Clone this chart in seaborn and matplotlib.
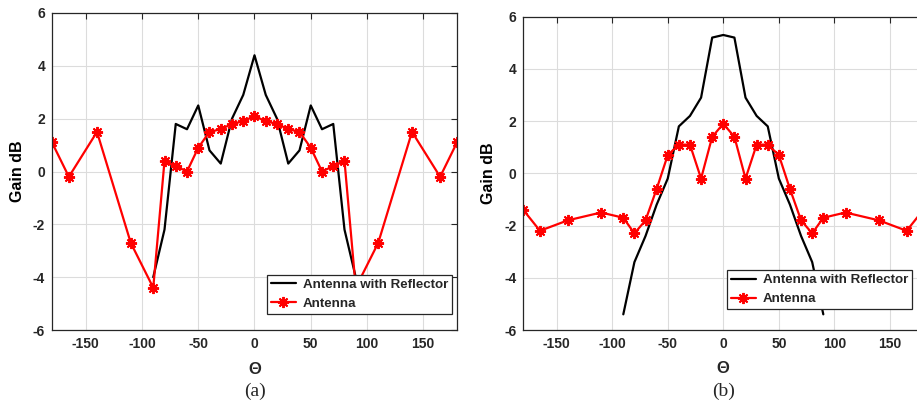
import numpy as np
import pandas as pd
import seaborn as sns
from matplotlib import pyplot as plt

# (a) antenna alone and with reflector
theta_a_ant = [-180, -165, -140, -110, -90, -80, -70, -60, -50, -40, -30, -20, -10, 0,
               10, 20, 30, 40, 50, 60, 70, 80, 90, 110, 140, 165, 180]
gain_a_ant = [1.1, -0.2, 1.5, -2.7, -4.4, 0.4, 0.2, 0.0, 0.9, 1.5, 1.6, 1.8, 1.9, 2.1,
              1.9, 1.8, 1.6, 1.5, 0.9, 0.0, 0.2, 0.4, -4.4, -2.7, 1.5, -0.2, 1.1]
theta_a_ref = [-90, -80, -70, -60, -50, -40, -30, -20, -10, 0, 10, 20, 30, 40, 50, 60, 70, 80, 90]
gain_a_ref = [-4.0, -2.2, 1.8, 1.6, 2.5, 0.8, 0.3, 2.0, 2.9, 4.4, 2.9, 2.0, 0.3, 0.8, 2.5, 1.6, 1.8, -2.2, -4.0]

# (b)
theta_b_ant = [-180, -165, -140, -110, -90, -80, -70, -60, -50, -40, -30, -20, -10, 0,
               10, 20, 30, 40, 50, 60, 70, 80, 90, 110, 140, 165, 180]
gain_b_ant = [-1.4, -2.2, -1.8, -1.5, -1.7, -2.3, -1.8, -0.6, 0.7, 1.1, 1.1, -0.2, 1.4, 1.9,
              1.4, -0.2, 1.1, 1.1, 0.7, -0.6, -1.8, -2.3, -1.7, -1.5, -1.8, -2.2, -1.4]
theta_b_ref = [-90, -80, -70, -60, -50, -40, -30, -20, -10, 0, 10, 20, 30, 40, 50, 60, 70, 80, 90]
gain_b_ref = [-5.4, -3.4, -2.4, -1.2, -0.2, 1.8, 2.2, 2.9, 5.2, 5.3, 5.2, 2.9, 2.2, 1.8, -0.2, -1.2, -2.4, -3.4, -5.4]

x_ticks = [-150, -100, -50, 0, 50, 100, 150]
y_ticks = [-6, -4, -2, 0, 2, 4, 6]

sns.set_style("whitegrid")
plt.rcParams['font.family'] = ['Liberation Sans', 'DejaVu Sans']
plt.rcParams['axes.unicode_minus'] = False
dark = "#262626"


def draw_panel(ax, th_ref, g_ref, th_ant, g_ant, leg_anchor):
    ref = pd.DataFrame({"theta": th_ref, "gain": g_ref})
    ant = pd.DataFrame({"theta": th_ant, "gain": g_ant})
    sns.lineplot(data=ref, x="theta", y="gain", ax=ax, color="black", lw=1.6,
                 label="Antenna with Reflector", sort=False)
    sns.lineplot(data=ant, x="theta", y="gain", ax=ax, color="red", lw=1.6,
                 marker=(8, 2, 0), markersize=8, markeredgewidth=1.4, markeredgecolor="red",
                 label="Antenna", sort=False)
    ax.set_xlim(-180, 180)
    ax.set_ylim(-6, 6)
    ax.set_xticks(x_ticks)
    ax.set_yticks(y_ticks)
    ax.grid(True, color="#dcdcdc", lw=0.8)
    for s in ax.spines.values():
        s.set_color(dark)
        s.set_linewidth(0.9)
        s.set_visible(True)
    ax.tick_params(direction="in", top=True, right=True, length=4, width=0.8,
                   color=dark, labelcolor=dark, labelsize=10, pad=5)
    for lab in ax.get_xticklabels() + ax.get_yticklabels():
        lab.set_fontweight("bold")
    ax.set_xlabel("Θ", fontsize=12, fontweight="bold", color=dark)
    ax.xaxis.set_label_coords(0.5, -0.1)
    ax.set_ylabel("Gain dB", fontsize=11.5, fontweight="bold", color="black")
    ax.yaxis.set_label_coords(-0.067, 0.5)
    leg = ax.legend(loc="lower right", bbox_to_anchor=leg_anchor, borderaxespad=0,
                    fancybox=False, framealpha=1, edgecolor=dark,
                    prop={"weight": "bold", "size": 9.6},
                    handlelength=1.9, handletextpad=0.5, borderpad=0.3, labelspacing=0.5)
    leg.get_frame().set_linewidth(0.9)


fig = plt.figure(figsize=(9.17, 4.05), dpi=100)
ax1 = fig.add_axes([52 / 917, 75 / 405, 405 / 917, 317 / 405])
ax2 = fig.add_axes([523.3 / 917, 75 / 405, 400 / 917, 313.3 / 405])

draw_panel(ax1, theta_a_ref, gain_a_ref, theta_a_ant, gain_a_ant, (0.988, 0.05))
draw_panel(ax2, theta_b_ref, gain_b_ref, theta_b_ant, gain_b_ant, (0.972, 0.066))

fig.text(255 / 917, 1 - 391 / 405, "(a)", ha="center", va="center", fontsize=14,
         family="Liberation Serif")
fig.text(724 / 917, 1 - 391 / 405, "(b)", ha="center", va="center", fontsize=14,
         family="Liberation Serif")

plt.savefig("out.png", dpi=100)
